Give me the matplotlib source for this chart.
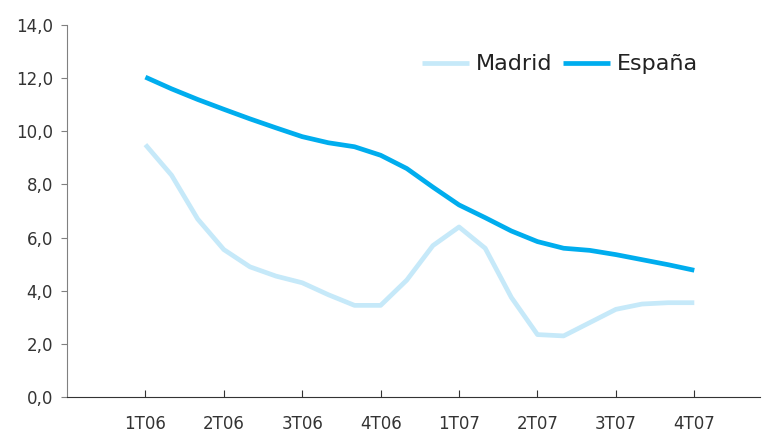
import numpy as np
import matplotlib
matplotlib.use("Agg")
import matplotlib.pyplot as plt

plt.rcParams["font.family"] = ["DejaVu Sans"]

# monthly values, 1T06 .. 4T07
meses = np.arange(22)
trimestres = ["1T06", "2T06", "3T06", "4T06", "1T07", "2T07", "3T07", "4T07"]
madrid = [9.5, 8.35, 6.7, 5.55, 4.9, 4.55, 4.3, 3.85, 3.45, 3.45, 4.4,
          5.7, 6.4, 5.6, 3.75, 2.35, 2.3, 2.8, 3.3, 3.5, 3.55, 3.55]
espana = [12.04, 11.6, 11.2, 10.83, 10.47, 10.13, 9.8, 9.57, 9.42, 9.1, 8.6,
          7.9, 7.23, 6.75, 6.25, 5.85, 5.6, 5.52, 5.36, 5.17, 4.98, 4.77]

fig = plt.figure(figsize=(7.62, 4.33), dpi=100)
ax = fig.add_axes([0.0879, 0.0831, 0.909, 0.859])

ax.plot(meses, madrid, color="#c6e9f9", lw=3.4, label="Madrid",
        solid_joinstyle="round", solid_capstyle="butt")
ax.plot(meses, espana, color="#00adee", lw=3.4, label="España",
        solid_joinstyle="round", solid_capstyle="butt")

ax.set_xlim(-3, 23.5)
ax.set_ylim(0, 14)
ax.set_yticks(np.arange(0, 15, 2))
ax.set_yticklabels([f"{v:.1f}".replace(".", ",") for v in np.arange(0, 15, 2)])
ax.set_xticks(meses[::3])
ax.set_xticklabels(trimestres)

for s in ["top", "right"]:
    ax.spines[s].set_visible(False)
ax.spines["left"].set_color("#808080")
ax.spines["bottom"].set_color("#333333")
ax.tick_params(axis="y", direction="out", length=4, color="#808080",
               labelsize=12, labelcolor="#333333", pad=6)
ax.tick_params(axis="x", direction="in", length=5, color="#333333",
               labelsize=12, labelcolor="#333333", pad=13)

leg = ax.legend(loc="upper left", bbox_to_anchor=(0.5, 0.945), ncol=2,
                frameon=False, fontsize=16, handlelength=2.1,
                handletextpad=0.3, columnspacing=0.5, borderaxespad=0)
for t in leg.get_texts():
    t.set_color("#222222")

fig.savefig("out.png", dpi=100)
